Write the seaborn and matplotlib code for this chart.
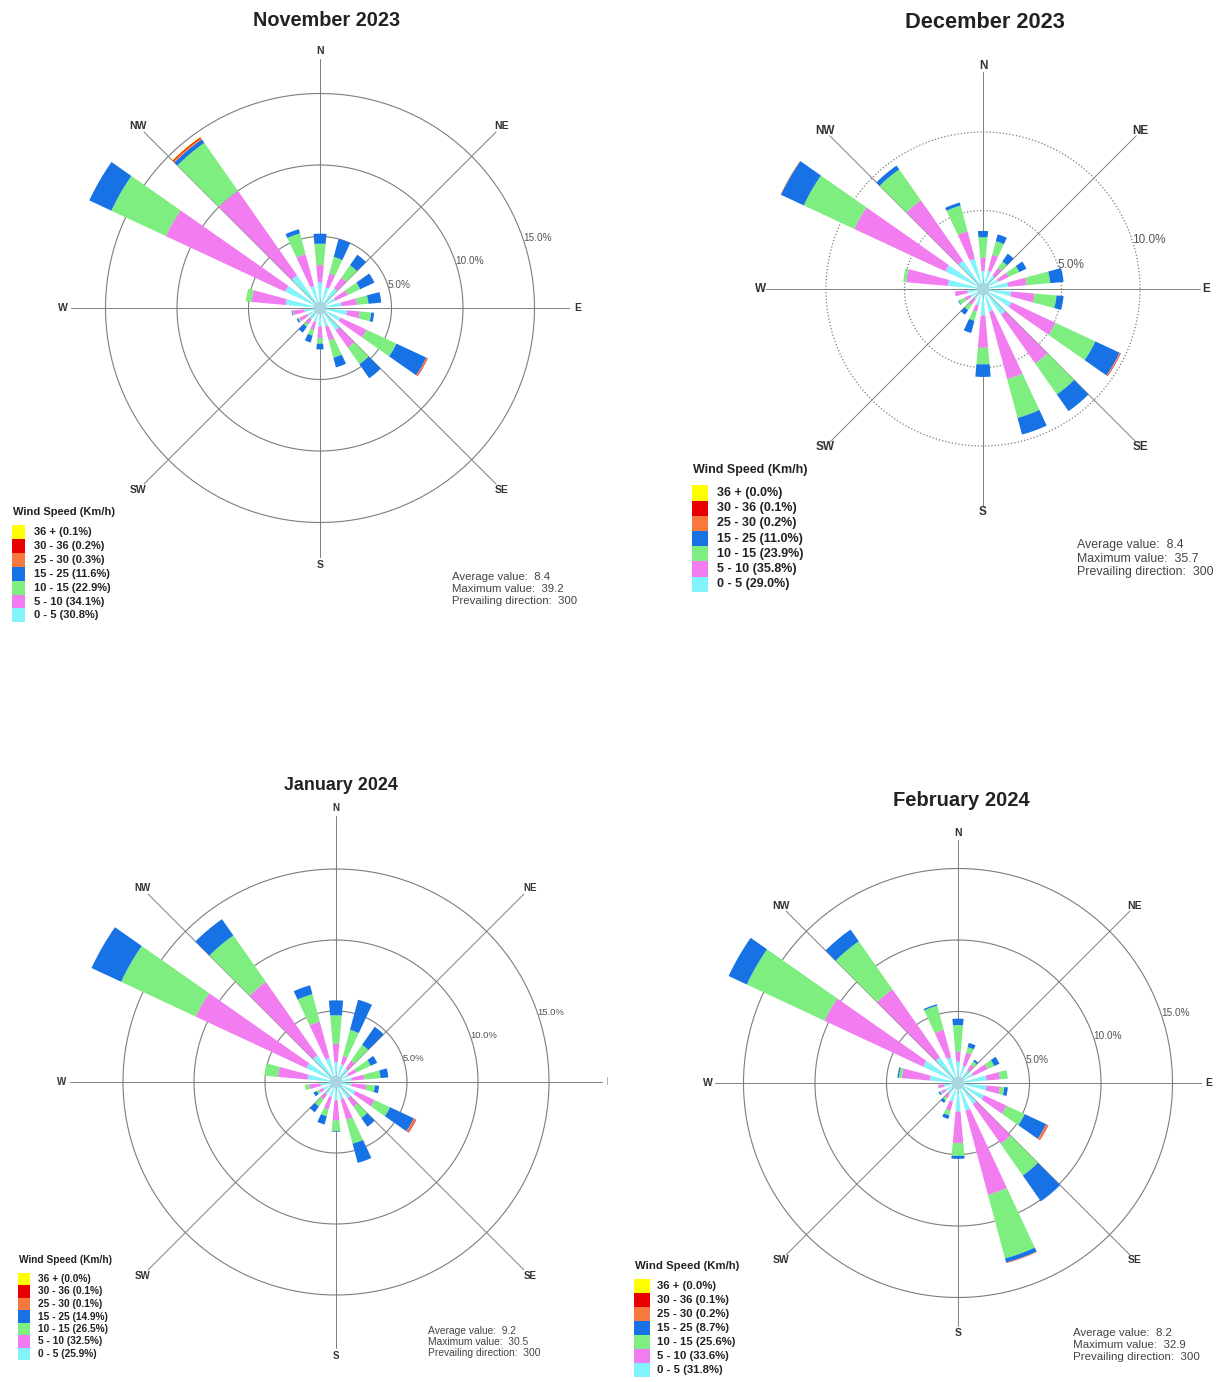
import numpy as np
import matplotlib
matplotlib.use("Agg")
import matplotlib.pyplot as plt
import seaborn as sns
from matplotlib.patches import Rectangle
from matplotlib.transforms import Bbox

# ---------------- data ----------------
DIRECTIONS = [0, 20, 40, 60, 80, 100, 120, 140, 160, 180, 200, 220, 240, 260, 280, 300, 320, 340]
SPEED_CLASSES = ["0 - 5", "5 - 10", "10 - 15", "15 - 25", "25 - 30", "30 - 36", "36 +"]
COMPASS = ["N", "NE", "E", "SE", "S", "SW", "W", "NW"]

# November 2023 (frequency %, per direction)
NOV_0_5 = [1.8, 1.5, 1.7, 1.2, 1.5, 1.9, 1.6, 1.9, 1.35, 1.3, 1.0, 1.0, 1.0, 1.1, 2.4, 2.7, 2.8, 1.6]
NOV_5_10 = [1.2, 1.0, 0.9, 0.95, 1.1, 0.9, 2.0, 1.5, 1.0, 0.8, 0.6, 0.4, 0.6, 0.8, 2.4, 9.2, 7.2, 2.3]
NOV_10_15 = [1.5, 1.2, 1.05, 0.95, 0.8, 0.8, 2.3, 1.4, 1.25, 0.4, 0.4, 0.2, 0.1, 0.05, 0.4, 4.2, 4.1, 1.5]
NOV_15_25 = [0.7, 1.3, 0.9, 1.1, 0.9, 0.2, 2.3, 1.2, 0.7, 0.4, 0.5, 0.5, 0.1, 0.05, 0.0, 1.7, 0.3, 0.3]
NOV_25_30 = [0, 0, 0, 0, 0, 0, 0.08, 0, 0, 0, 0, 0, 0, 0, 0, 0, 0.10, 0]
NOV_30_36 = [0, 0, 0, 0, 0, 0, 0.04, 0, 0, 0, 0, 0, 0, 0, 0, 0, 0.08, 0]
NOV_36P = [0, 0, 0, 0, 0, 0, 0, 0, 0, 0, 0, 0, 0, 0, 0, 0, 0.04, 0]
NOV_LEGEND = [30.8, 34.1, 22.9, 11.6, 0.3, 0.2, 0.1]
NOV_STATS = ["8.4", "39.2", "300"]

# December 2023
DEC_0_5 = [1.15, 1.2, 1.05, 1.1, 1.6, 1.8, 2.0, 2.0, 1.5, 1.7, 1.1, 0.8, 0.9, 1.0, 2.25, 2.65, 2.2, 2.0]
DEC_5_10 = [0.85, 1.05, 0.6, 0.7, 1.2, 1.5, 3.1, 3.8, 4.45, 2.05, 0.4, 0.45, 0.4, 0.8, 2.65, 6.4, 4.7, 1.8]
DEC_10_15 = [1.3, 0.9, 0.5, 0.75, 1.5, 1.4, 2.8, 2.4, 2.55, 1.05, 0.6, 0.4, 0.4, 0.0, 0.2, 3.55, 2.4, 1.7]
DEC_15_25 = [0.4, 0.45, 0.6, 0.5, 0.85, 0.45, 1.7, 1.3, 1.1, 0.8, 0.8, 0.35, 0.05, 0.0, 0.0, 1.6, 0.3, 0.2]
DEC_25_30 = [0, 0, 0, 0, 0, 0, 0.06, 0, 0, 0, 0, 0, 0, 0, 0, 0.03, 0, 0]
DEC_30_36 = [0, 0, 0, 0, 0, 0, 0.03, 0, 0, 0, 0, 0, 0, 0, 0, 0, 0, 0]
DEC_36P = [0] * 18
DEC_LEGEND = [29.0, 35.8, 23.9, 11.0, 0.2, 0.1, 0.0]
DEC_STATS = ["8.4", "35.7", "300"]

# January 2024
JAN_0_5 = [1.4, 1.3, 1.15, 0.95, 1.1, 1.1, 1.5, 1.4, 1.25, 1.3, 1.1, 1.1, 1.0, 1.1, 2.0, 2.3, 2.3, 1.75]
JAN_5_10 = [1.3, 0.6, 0.7, 0.65, 0.9, 1.05, 1.5, 0.75, 1.5, 1.4, 0.9, 0.4, 0.3, 0.8, 2.1, 8.6, 6.3, 2.65]
JAN_10_15 = [2.0, 1.9, 1.35, 1.1, 1.15, 0.6, 1.2, 0.95, 1.75, 0.75, 0.5, 0.6, 0.2, 0.3, 0.95, 5.8, 4.0, 2.0]
JAN_15_25 = [1.05, 2.2, 1.55, 0.5, 0.55, 0.3, 1.85, 0.75, 1.4, 0.05, 0.6, 0.5, 0.25, 0.0, 0.0, 2.3, 1.4, 0.65]
JAN_25_30 = [0, 0, 0, 0, 0, 0, 0.15, 0, 0, 0, 0, 0, 0, 0, 0, 0, 0, 0]
JAN_30_36 = [0, 0, 0, 0, 0, 0, 0.04, 0, 0, 0, 0, 0, 0, 0, 0, 0, 0, 0]
JAN_36P = [0] * 18
JAN_LEGEND = [25.9, 32.5, 26.5, 14.9, 0.1, 0.1, 0.0]
JAN_STATS = ["9.2", "30.5", "300"]

# February 2024
FEB_0_5 = [1.5, 1.25, 1.1, 1.2, 2.0, 2.0, 2.0, 1.8, 2.0, 2.0, 1.35, 1.0, 1.0, 1.0, 2.0, 2.7, 2.2, 1.85]
FEB_5_10 = [0.7, 0.95, 0.5, 1.1, 0.95, 0.95, 1.75, 3.4, 6.1, 2.2, 0.65, 0.3, 0.3, 0.4, 1.95, 7.6, 5.8, 2.0]
FEB_10_15 = [1.85, 0.4, 0.25, 0.5, 0.55, 0.3, 1.4, 2.7, 4.6, 0.9, 0.35, 0.2, 0.1, 0.0, 0.2, 6.0, 4.1, 1.75]
FEB_15_25 = [0.45, 0.3, 0.15, 0.4, 0.0, 0.25, 1.65, 2.2, 0.3, 0.2, 0.25, 0.2, 0.1, 0.0, 0.1, 1.4, 1.0, 0.1]
FEB_25_30 = [0, 0, 0, 0, 0, 0, 0.15, 0, 0.05, 0, 0, 0, 0, 0, 0, 0, 0, 0]
FEB_30_36 = [0, 0, 0, 0, 0, 0, 0.03, 0, 0, 0, 0, 0, 0, 0, 0, 0, 0, 0]
FEB_36P = [0] * 18
FEB_LEGEND = [31.8, 33.6, 25.6, 8.7, 0.2, 0.1, 0.0]
FEB_STATS = ["8.2", "32.9", "300"]

# ---------------- style ----------------
W, H = 1223, 1382
sns.set_theme(style="white")
plt.rcParams["font.family"] = ["Liberation Sans", "DejaVu Sans"]
SPEED_COLORS = sns.color_palette(["#82f3fb", "#f27df0", "#7dee7f", "#1772e6",
                                  "#f7793d", "#e80000", "#ffff00"])
CENTER_COLOR = "#a9d6e3"
GRID_COLOR = "#7d7d7d"

fig = plt.figure(figsize=(W / 100, H / 100), dpi=100)
fig.patch.set_facecolor("white")

overlay = fig.add_axes([0, 0, 1, 1], zorder=10)
overlay.set_xlim(0, W)
overlay.set_ylim(H, 0)
overlay.axis("off")


def draw_rose(title, classes, legend_pct, stats, lay):
    cx, cy, ppp = lay["cx"], lay["cy"], lay["ppp"]
    rmax = lay["rmax"]
    R = rmax * ppp
    ax = fig.add_axes([(cx - R) / W, (H - cy - R) / H, 2 * R / W, 2 * R / H],
                      projection="polar", zorder=2)
    ax.set_theta_zero_location("N")
    ax.set_theta_direction(-1)
    ax.set_ylim(0, rmax)
    ax.axis("off")

    theta = np.deg2rad(DIRECTIONS)
    width = np.deg2rad(10)
    bottom = np.zeros(len(DIRECTIONS))
    for vals, col in zip(classes, SPEED_COLORS):
        v = np.asarray(vals, dtype=float)
        ax.bar(theta, v, width=width, bottom=bottom, color=col,
               linewidth=0, edgecolor="none", zorder=3)
        bottom += v
    ax.bar(0, lay["disc"], width=2 * np.pi, bottom=0, color=CENTER_COLOR,
           linewidth=0, zorder=4)

    t = np.linspace(0, 2 * np.pi, 721)
    for r in lay["rings"]:
        ax.plot(t, np.full_like(t, r), color=GRID_COLOR, lw=lay["ring_lw"],
                ls=lay["ring_ls"], zorder=1)
    for k, d in enumerate(range(0, 360, 45)):
        ax.plot([np.deg2rad(d)] * 2, [0, lay["line_r"]], color=GRID_COLOR,
                lw=0.7, zorder=1)
        txt = ax.text(np.deg2rad(d), lay["label_r"], COMPASS[k], ha="center",
                      va="center", fontsize=lay["dir_fs"], fontweight="bold",
                      color="#333333", zorder=5)
        if lay.get("clip_x") is not None:
            txt.set_clip_box(Bbox.from_extents(0, 0, lay["clip_x"], H))
            txt.set_clip_on(True)
    for r in lay["rings"]:
        ang = np.deg2rad(lay["rl_ang"])
        ax.text(ang, r, f"{r:.1f}%", ha="left", va="center",
                fontsize=lay["rl_fs"], color="#555555", zorder=5)

    # title
    overlay.text(lay["title_xy"][0], lay["title_xy"][1], title, ha="center",
                 va="center", fontsize=lay["title_fs"], fontweight="bold",
                 color="#222222")
    # legend
    lx, ly = lay["leg_xy"]
    step, bw = lay["leg_step"], lay["leg_box"]
    overlay.text(lx + 1, ly, "Wind Speed (Km/h)", ha="left", va="center",
                 fontsize=lay["leg_fs"], fontweight="bold", color="#222222")
    y0 = ly + lay["leg_gap"]
    order = list(range(len(SPEED_CLASSES)))[::-1]
    for i, k in enumerate(order):
        yy = y0 + i * step
        overlay.add_patch(Rectangle((lx, yy - step / 2), bw, step,
                                    facecolor=SPEED_COLORS[k], edgecolor="none"))
        overlay.text(lx + lay["leg_tx"], yy, f"{SPEED_CLASSES[k]} ({legend_pct[k]:.1f}%)",
                     ha="left", va="center", fontsize=lay["leg_fs"],
                     fontweight="bold", color="#222222")
    # stats
    sx, sy = lay["stat_xy"]
    lines = [f"Average value:  {stats[0]}", f"Maximum value:  {stats[1]}",
             f"Prevailing direction:  {stats[2]}"]
    for i, s in enumerate(lines):
        overlay.text(sx, sy + i * lay["stat_step"], s, ha="left", va="center",
                     fontsize=lay["stat_fs"], color="#444444")


LAY_NOV = dict(cx=320, cy=308, ppp=14.3, rmax=19.0, rings=[5, 10, 15], ring_ls="-",
               ring_lw=0.8, line_r=17.4, label_r=18.0, dir_fs=7.5, rl_ang=71, rl_fs=7.2,
               disc=0.45, title_xy=(327, 20), title_fs=14.3, leg_xy=(12, 512),
               leg_step=13.9, leg_box=13, leg_gap=20, leg_tx=22, leg_fs=8.0,
               stat_xy=(452, 577), stat_step=12, stat_fs=8.2)
LAY_DEC = dict(cx=983, cy=289, ppp=15.7, rmax=15.0, rings=[5, 10], ring_ls=":",
               ring_lw=0.9, line_r=13.8, label_r=14.2, dir_fs=8.5, rl_ang=72, rl_fs=8.5,
               disc=0.4, title_xy=(985, 22), title_fs=15.7, leg_xy=(692, 470),
               leg_step=15.2, leg_box=16, leg_gap=23, leg_tx=25, leg_fs=9.0,
               stat_xy=(1077, 545), stat_step=13.5, stat_fs=8.9)
LAY_JAN = dict(cx=336, cy=1082, ppp=14.2, rmax=20.0, rings=[5, 10, 15], ring_ls="-",
               ring_lw=0.8, line_r=18.7, label_r=19.3, dir_fs=7, rl_ang=71, rl_fs=6.8,
               disc=0.45, title_xy=(341, 785), title_fs=12.9, leg_xy=(18, 1260),
               leg_step=12.5, leg_box=12, leg_gap=19, leg_tx=20, leg_fs=7.3,
               stat_xy=(428, 1331), stat_step=11, stat_fs=7.35, clip_x=608)
LAY_FEB = dict(cx=958, cy=1083, ppp=14.3, rmax=18.5, rings=[5, 10, 15], ring_ls="-",
               ring_lw=0.8, line_r=17.0, label_r=17.5, dir_fs=7.5, rl_ang=71, rl_fs=7.2,
               disc=0.45, title_xy=(961, 800), title_fs=14.5, leg_xy=(634, 1266),
               leg_step=14, leg_box=16, leg_gap=20, leg_tx=23, leg_fs=8.2,
               stat_xy=(1073, 1333), stat_step=12, stat_fs=8.25)

draw_rose("November 2023",
          [NOV_0_5, NOV_5_10, NOV_10_15, NOV_15_25, NOV_25_30, NOV_30_36, NOV_36P],
          NOV_LEGEND, NOV_STATS, LAY_NOV)
draw_rose("December 2023",
          [DEC_0_5, DEC_5_10, DEC_10_15, DEC_15_25, DEC_25_30, DEC_30_36, DEC_36P],
          DEC_LEGEND, DEC_STATS, LAY_DEC)
draw_rose("January 2024",
          [JAN_0_5, JAN_5_10, JAN_10_15, JAN_15_25, JAN_25_30, JAN_30_36, JAN_36P],
          JAN_LEGEND, JAN_STATS, LAY_JAN)
draw_rose("February 2024",
          [FEB_0_5, FEB_5_10, FEB_10_15, FEB_15_25, FEB_25_30, FEB_30_36, FEB_36P],
          FEB_LEGEND, FEB_STATS, LAY_FEB)

fig.savefig("out.png", dpi=100, facecolor="white")
